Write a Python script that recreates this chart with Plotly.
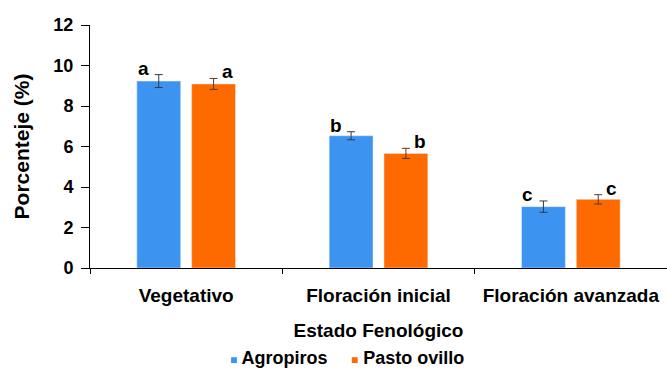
import plotly.graph_objects as go

# Phenological stages and the two forage species
estados = ["Vegetativo", "Floración inicial", "Floración avanzada"]
agropiros = [9.23, 6.53, 3.03]
agropiros_err = [0.32, 0.20, 0.28]
pasto_ovillo = [9.09, 5.66, 3.39]
pasto_ovillo_err = [0.27, 0.25, 0.23]
letras_agropiros = ["a", "b", "c"]
letras_pasto = ["a", "b", "c"]
series = ["Agropiros", "Pasto ovillo"]

AZUL = "#3d94f0"
NARANJA = "#ff6a00"
FUENTE = "Liberation Sans, Arial, sans-serif"

fig = go.Figure()
fig.add_trace(go.Bar(
    name=series[0], x=estados, y=agropiros, marker_color=AZUL,
    showlegend=False,
    error_y=dict(type="data", array=agropiros_err, color="#333a45",
                 thickness=1, width=4),
))
fig.add_trace(go.Bar(
    name=series[1], x=estados, y=pasto_ovillo, marker_color=NARANJA,
    showlegend=False,
    error_y=dict(type="data", array=pasto_ovillo_err, color="#5a3a2a",
                 thickness=1, width=4),
))

# Significance letters above each bar's error bar
for i, est in enumerate(estados):
    fig.add_annotation(x=est, y=agropiros[i] + agropiros_err[i],
                       text=letras_agropiros[i], showarrow=False,
                       xshift=-43, yanchor="bottom", yshift=-6,
                       font=dict(size=19, color="black", family=FUENTE, weight="bold"))
    fig.add_annotation(x=est, y=pasto_ovillo[i] + pasto_ovillo_err[i],
                       text=letras_pasto[i], showarrow=False,
                       xshift=41, yanchor="bottom", yshift=-6,
                       font=dict(size=19, color="black", family=FUENTE, weight="bold"))

# Legend: small coloured squares followed by the series names
for nombre, color, xpos in [(series[0], AZUL, 228), (series[1], NARANJA, 349)]:
    fig.add_annotation(
        xref="paper", yref="paper", x=(xpos - 90) / 577, y=-(358 - 268) / 243,
        xanchor="left", yanchor="middle", showarrow=False,
        text=f"<span style='color:{color};font-size:12px'>■</span> {nombre}",
        font=dict(size=18, color="black", family=FUENTE, weight="bold"),
    )

fig.update_layout(
    width=667, height=374,
    margin=dict(l=90, r=0, t=25, b=106, autoexpand=False),
    paper_bgcolor="white", plot_bgcolor="white",
    barmode="group", bargap=0.43, bargroupgap=0.2,
    font=dict(family=FUENTE, color="black"),
    showlegend=False,
)
fig.update_xaxes(
    title=dict(text="Estado Fenológico", font=dict(size=19, weight="bold"),
               standoff=18),
    tickfont=dict(size=19, weight="bold"),
    ticklabelstandoff=10,
    showline=True, linecolor="black", linewidth=1,
    ticks="outside", tickson="boundaries", ticklen=5, tickcolor="black",
    showgrid=False, automargin=False,
)
fig.update_yaxes(
    title=dict(text="Porcenteje (%)", font=dict(size=21, weight="bold"),
               standoff=18),
    range=[0, 12], dtick=2,
    tickfont=dict(size=18, weight="bold"),
    ticklabelstandoff=4,
    showline=True, linecolor="black", linewidth=1,
    ticks="outside", ticklen=8, tickcolor="black",
    showgrid=False, zeroline=False, automargin=False,
)

fig.write_html("out.html")
